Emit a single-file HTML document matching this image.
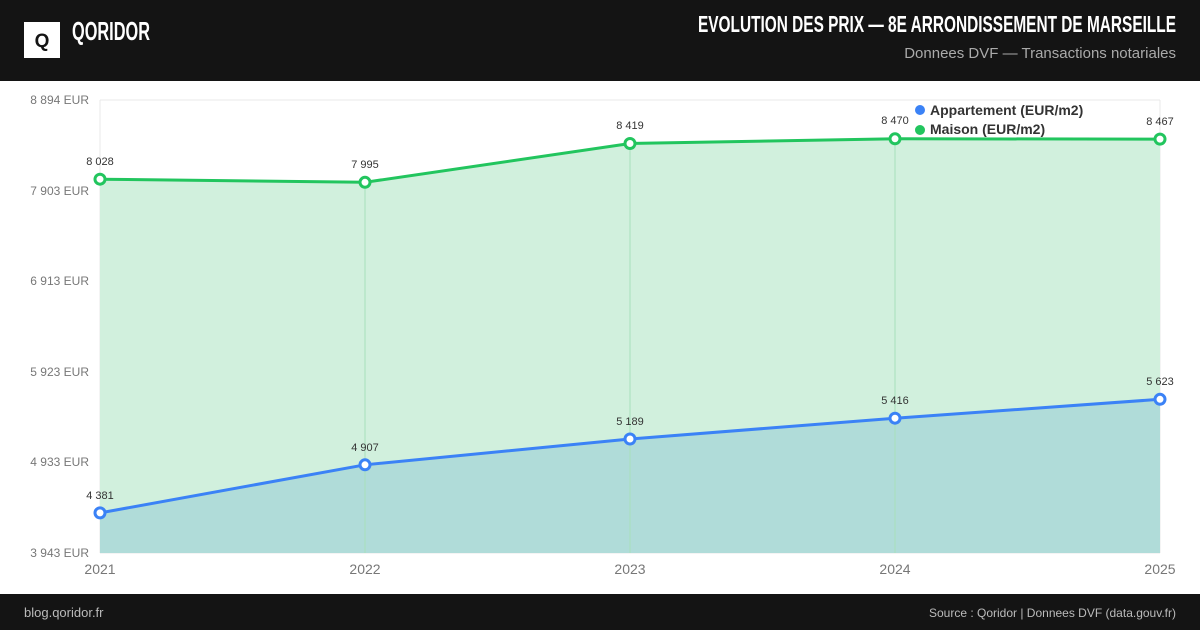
<!DOCTYPE html>
<html><head><meta charset="utf-8"><style>
body{margin:0;width:1200px;height:630px;overflow:hidden;background:#fff;font-family:"Liberation Sans",sans-serif}
</style></head><body>
<svg width="1200" height="630" xmlns="http://www.w3.org/2000/svg" font-family="Liberation Sans, sans-serif">
<rect x="0" y="0" width="1200" height="81" fill="#141414"/>
<rect x="24" y="22" width="36" height="36" fill="#fff"/>
<text x="42" y="47" font-size="19" font-weight="bold" text-anchor="middle" fill="#141414">Q</text>
<text x="72" y="40" font-size="26" font-weight="bold" fill="#fff" textLength="78" lengthAdjust="spacingAndGlyphs">QORIDOR</text>
<text x="1176" y="32" font-size="23" font-weight="bold" fill="#fff" text-anchor="end" textLength="478" lengthAdjust="spacingAndGlyphs">EVOLUTION DES PRIX — 8E ARRONDISSEMENT DE MARSEILLE</text>
<text x="1176" y="58" font-size="15" fill="#aaa" text-anchor="end">Donnees DVF — Transactions notariales</text>

<g stroke="#e8e8e8" stroke-width="1">
<line x1="100" y1="100" x2="1160" y2="100"/><line x1="100" y1="190.7" x2="1160" y2="190.7"/>
<line x1="100" y1="281.3" x2="1160" y2="281.3"/><line x1="100" y1="371.8" x2="1160" y2="371.8"/>
<line x1="100" y1="462.4" x2="1160" y2="462.4"/><line x1="100" y1="553" x2="1160" y2="553"/>
<line x1="100" y1="100" x2="100" y2="553"/><line x1="1160" y1="100" x2="1160" y2="553"/>
</g>
<g font-size="12" fill="#777" text-anchor="end">
<text x="89" y="104">8 894 EUR</text><text x="89" y="195">7 903 EUR</text><text x="89" y="285">6 913 EUR</text>
<text x="89" y="376">5 923 EUR</text><text x="89" y="466">4 933 EUR</text><text x="89" y="557">3 943 EUR</text>
</g>
<polygon points="100,179.2 365,182.3 630,143.5 895,138.8 1160,139.1 1160,553 100,553" fill="#d1f0dd"/>
<polygon points="100,512.9 365,464.8 630,439 895,418.2 1160,399.3 1160,553 100,553" fill="#b0dcd9"/>
<g stroke="#a8e0bc" stroke-width="1"><line x1="365" y1="182" x2="365" y2="553"/><line x1="630" y1="143" x2="630" y2="553"/><line x1="895" y1="139" x2="895" y2="553"/></g>
<polyline points="100,179.2 365,182.3 630,143.5 895,138.8 1160,139.1" fill="none" stroke="#22c55e" stroke-width="3"/>
<polyline points="100,512.9 365,464.8 630,439 895,418.2 1160,399.3" fill="none" stroke="#3b82f6" stroke-width="3"/>
<g fill="#fff" stroke="#22c55e" stroke-width="3">
<circle cx="100" cy="179.2" r="5"/><circle cx="365" cy="182.3" r="5"/><circle cx="630" cy="143.5" r="5"/><circle cx="895" cy="138.8" r="5"/><circle cx="1160" cy="139.1" r="5"/></g>
<g fill="#fff" stroke="#3b82f6" stroke-width="3">
<circle cx="100" cy="512.9" r="5"/><circle cx="365" cy="464.8" r="5"/><circle cx="630" cy="439" r="5"/><circle cx="895" cy="418.2" r="5"/><circle cx="1160" cy="399.3" r="5"/></g>
<g font-size="11" fill="#333" text-anchor="middle">
<text x="100" y="165">8 028</text><text x="365" y="168">7 995</text><text x="630" y="129">8 419</text><text x="895" y="124">8 470</text><text x="1160" y="125">8 467</text>
<text x="100" y="499">4 381</text><text x="365" y="451">4 907</text><text x="630" y="425">5 189</text><text x="895" y="404">5 416</text><text x="1160" y="385">5 623</text>
</g>
<circle cx="920" cy="110" r="5" fill="#3b82f6"/><circle cx="920" cy="130" r="5" fill="#22c55e"/>
<g font-size="14" font-weight="bold" fill="#333"><text x="930" y="115">Appartement (EUR/m2)</text><text x="930" y="134">Maison (EUR/m2)</text></g>
<g font-size="14" fill="#777" text-anchor="middle">
<text x="100" y="574">2021</text><text x="365" y="574">2022</text><text x="630" y="574">2023</text><text x="895" y="574">2024</text><text x="1160" y="574">2025</text></g>
<rect x="0" y="594" width="1200" height="36" fill="#141414"/>
<text x="24" y="617" font-size="13" fill="#bbb">blog.qoridor.fr</text>
<text x="1176" y="617" font-size="12" fill="#bbb" text-anchor="end">Source : Qoridor | Donnees DVF (data.gouv.fr)</text>
</svg>
</body></html>
